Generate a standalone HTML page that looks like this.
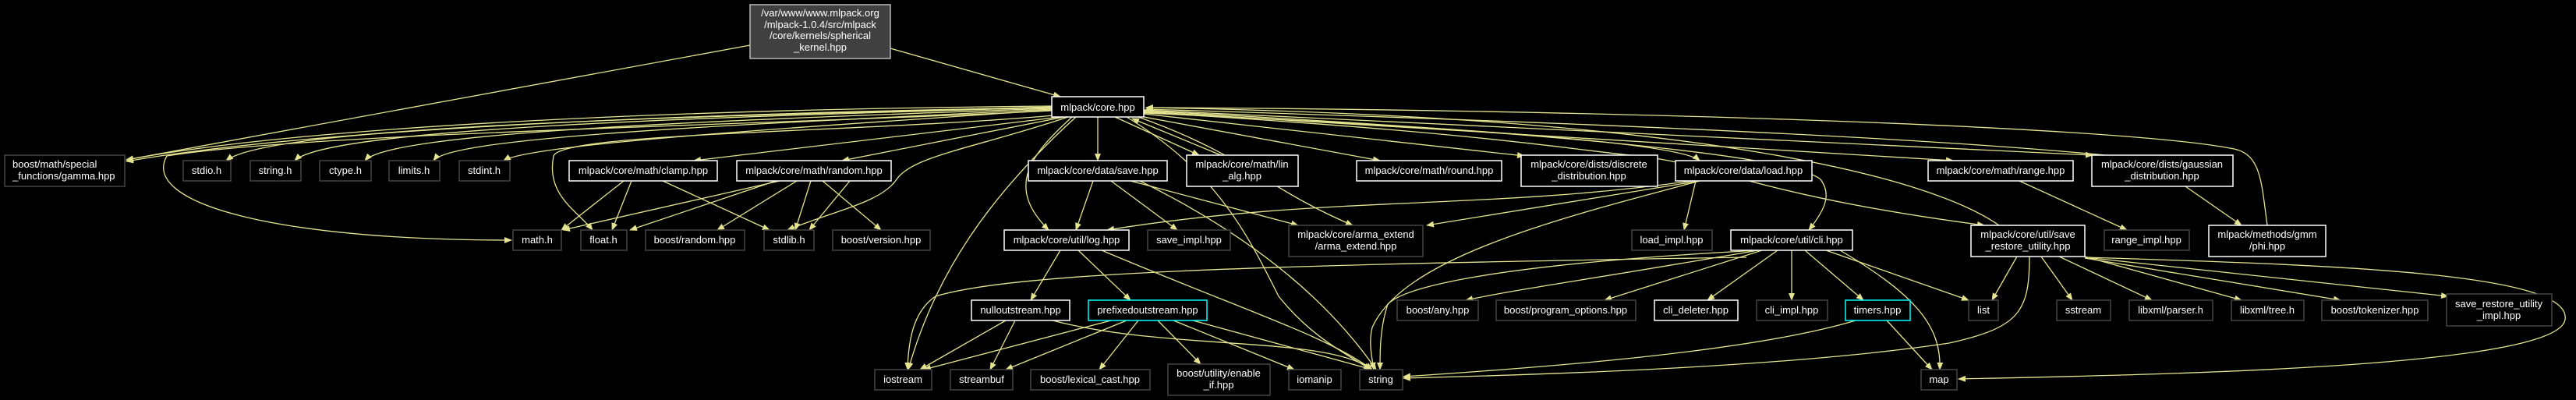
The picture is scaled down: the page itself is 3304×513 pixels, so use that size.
<!DOCTYPE html>
<html><head><meta charset="utf-8"><style>
html,body{margin:0;padding:0;background:#000;width:3304px;height:513px;overflow:hidden}
svg text{font-family:"Liberation Sans",Arial,sans-serif;font-size:13px;fill:#fff}
.e{fill:none;stroke:#e4e490;stroke-width:1.3}
.n{fill:#000;stroke:#fff;stroke-width:1.5}
.g{fill:#000;stroke:#444;stroke-width:1.5}
.c{fill:#000;stroke:#0ff;stroke-width:1.5}
</style></head><body>
<svg width="3304" height="513" viewBox="0 0 3304 513" xmlns="http://www.w3.org/2000/svg">
<defs><marker id="a" markerWidth="10" markerHeight="8" refX="9" refY="4" orient="auto" markerUnits="userSpaceOnUse"><path d="M0,0 L10,4 L0,8 z" fill="#e4e490"/></marker></defs>
<g class="e" marker-end="url(#a)">
<path d="M1142,62 L1360,124"/>
<path d="M962,58 L162,205"/>
<path d="M1349,136 C900,140 400,160 162,205"/>
<path d="M1349,138 C900,145 400,165 162,207"/>
<path d="M1349,137 C900,150 350,160 290,206"/>
<path d="M1349,138 C900,150 420,165 378,206"/>
<path d="M1349,139 C900,155 500,170 468,206"/>
<path d="M1349,140 C950,160 580,175 556,206"/>
<path d="M1349,141 C1000,165 680,185 646,206"/>
<path d="M1349,142 C1000,160 400,170 214,200 C180,260 350,308 656,308"/>
<path d="M1352,148 C1100,170 720,170 710,200 C700,250 740,270 760,295"/>
<path d="M1360,150 L890,206"/>
<path d="M1370,150 C1250,190 1170,200 1150,230 C1130,260 1070,270 1010,295"/>
<path d="M1365,150 L1080,206"/>
<path d="M1408,150 L1408,206"/>
<path d="M1375,150 C1320,200 1290,240 1345,295"/>
<path d="M1380,150 C1270,250 1200,350 1165,474"/>
<path d="M1430,150 L1538,199"/>
<path d="M1467,150 L1770,206"/>
<path d="M1467,146 L1955,200"/>
<path d="M1467,145 C1800,160 2150,180 2180,206"/>
<path d="M1467,143 L2505,206"/>
<path d="M1467,141 L2684,199"/>
<path d="M1467,142 C2000,170 2300,200 2335,230 C2350,250 2340,270 2320,295"/>
<path d="M1467,144 C1900,170 2000,190 2100,200 C2200,210 2250,250 2545,289"/>
<path d="M1460,150 C1600,200 1620,240 1735,289"/>
<path d="M1445,150 C1560,220 1600,300 1640,380 C1680,430 1720,450 1758,474"/>
<path d="M1566,199 L1452,152"/>
<path d="M2564,289 C2480,230 2200,150 1470,138"/>
<path d="M2908,289 C2900,230 2900,195 2860,190 C2700,160 2000,140 1470,138"/>
<path d="M2700,199 C2400,170 1800,150 1470,140"/>
<path d="M800,232 L720,295"/><path d="M810,232 L785,295"/><path d="M850,232 L987,295"/>
<path d="M1000,232 L722,295"/><path d="M995,232 L808,295"/><path d="M1022,232 L920,295"/><path d="M1040,232 L1020,295"/><path d="M1055,232 L1130,295"/><path d="M1090,232 L1038,295"/>
<path d="M1402,232 L1380,295"/><path d="M1425,232 L1510,295"/><path d="M1450,232 L1665,289"/>
<path d="M1462,232 C1600,300 1700,380 1765,474"/>
<path d="M2175,232 L2160,295"/><path d="M2170,232 C1900,270 1700,250 1420,295"/>
<path d="M2180,232 L1830,289"/>
<path d="M2180,232 C2000,280 1800,330 1760,420 C1755,440 1760,460 1762,474"/>
<path d="M2240,330 C1600,340 1300,350 1200,380 C1170,400 1165,440 1164,474"/>
<path d="M2590,232 L2728,295"/>
<path d="M2803,239 L2875,289"/>
<path d="M2255,321 C1900,340 1800,370 1780,390 C1770,420 1770,450 1770,474" />
<path d="M2255,321 C2030,360 1950,370 1880,385"/>
<path d="M2260,321 L2058,385"/>
<path d="M2280,321 L2190,385"/>
<path d="M2298,321 L2298,385"/>
<path d="M2315,321 L2390,385"/>
<path d="M2342,321 L2525,385"/>
<path d="M2360,321 C2460,380 2490,420 2488,474"/>
<path d="M1360,321 L1322,385"/><path d="M1383,321 L1450,385"/><path d="M1413,321 C1600,400 1700,430 1760,474"/>
<path d="M1290,411 L1180,474"/><path d="M1302,411 L1270,474"/><path d="M1350,411 C1500,450 1700,430 1760,474"/>
<path d="M1425,411 L1185,474"/><path d="M1445,411 L1290,474"/><path d="M1460,411 L1410,474"/><path d="M1485,411 L1540,467"/><path d="M1505,411 L1660,474"/><path d="M1530,411 L1760,474"/>
<path d="M2380,411 C2250,450 2000,470 1800,483"/>
<path d="M2420,411 L2478,474"/>
<path d="M2587,329 L2555,385"/><path d="M2618,329 L2658,385"/><path d="M2641,329 L2760,385"/><path d="M2674,329 L2875,385"/><path d="M2674,331 L3002,385"/><path d="M2674,330 L3140,380"/>
<path d="M2674,330 C3000,340 3300,350 3290,410 C3280,470 2800,480 2512,486"/>
<path d="M2603,329 C2603,400 2590,420 2500,440 C2300,470 2000,480 1800,485"/>
</g>
<rect x="962" y="6" width="180" height="69" fill="#404040" stroke="#bbb" stroke-width="1.5"/>
<text x="1052" y="21" text-anchor="middle">/var/www/www.mlpack.org</text>
<text x="1052" y="36" text-anchor="middle">/mlpack-1.0.4/src/mlpack</text>
<text x="1052" y="50" text-anchor="middle">/core/kernels/spherical</text>
<text x="1052" y="65" text-anchor="middle">_kernel.hpp</text>
<rect class="n" x="1349" y="124" width="118" height="26"/><text x="1408" y="142" text-anchor="middle">mlpack/core.hpp</text>
<rect class="g" x="6" y="199" width="154" height="40"/><text x="16" y="215">boost/math/special</text><text x="16" y="230">_functions/gamma.hpp</text>
<g text-anchor="middle">
<rect class="g" x="235" y="206" width="61" height="26"/><text x="265" y="223">stdio.h</text>
<rect class="g" x="321" y="206" width="65" height="26"/><text x="353" y="223">string.h</text>
<rect class="g" x="410" y="206" width="66" height="26"/><text x="443" y="223">ctype.h</text>
<rect class="g" x="499" y="206" width="65" height="26"/><text x="531" y="223">limits.h</text>
<rect class="g" x="589" y="206" width="65" height="26"/><text x="621" y="223">stdint.h</text>
<rect class="n" x="730" y="206" width="190" height="26"/><text x="825" y="223">mlpack/core/math/clamp.hpp</text>
<rect class="n" x="945" y="206" width="198" height="26"/><text x="1044" y="223">mlpack/core/math/random.hpp</text>
<rect class="n" x="1319" y="206" width="178" height="26"/><text x="1408" y="223">mlpack/core/data/save.hpp</text>
<rect class="n" x="1522" y="199" width="143" height="40"/><text x="1593" y="215">mlpack/core/math/lin</text><text x="1593" y="230">_alg.hpp</text>
<rect class="n" x="1740" y="206" width="186" height="26"/><text x="1833" y="223">mlpack/core/math/round.hpp</text>
<rect class="n" x="1951" y="199" width="175" height="40"/><text x="2038" y="215">mlpack/core/dists/discrete</text><text x="2038" y="230">_distribution.hpp</text>
<rect class="n" x="2149" y="206" width="175" height="26"/><text x="2236" y="223">mlpack/core/data/load.hpp</text>
<rect class="n" x="2473" y="206" width="186" height="26"/><text x="2566" y="223">mlpack/core/math/range.hpp</text>
<rect class="n" x="2683" y="199" width="181" height="40"/><text x="2773" y="215">mlpack/core/dists/gaussian</text><text x="2773" y="230">_distribution.hpp</text>
<rect class="g" x="658" y="295" width="62" height="26"/><text x="689" y="312">math.h</text>
<rect class="g" x="745" y="295" width="59" height="26"/><text x="774" y="312">float.h</text>
<rect class="g" x="828" y="295" width="127" height="26"/><text x="891" y="312">boost/random.hpp</text>
<rect class="g" x="980" y="295" width="64" height="26"/><text x="1012" y="312">stdlib.h</text>
<rect class="g" x="1068" y="295" width="125" height="26"/><text x="1130" y="312">boost/version.hpp</text>
<rect class="n" x="1288" y="295" width="160" height="26"/><text x="1368" y="312">mlpack/core/util/log.hpp</text>
<rect class="g" x="1472" y="295" width="106" height="26"/><text x="1525" y="312">save_impl.hpp</text>
<rect class="g" x="1653" y="289" width="172" height="40"/><text x="1739" y="305">mlpack/core/arma_extend</text><text x="1739" y="320">/arma_extend.hpp</text>
<rect class="g" x="2093" y="295" width="103" height="26"/><text x="2144" y="312">load_impl.hpp</text>
<rect class="n" x="2220" y="295" width="156" height="26"/><text x="2298" y="312">mlpack/core/util/cli.hpp</text>
<rect class="n" x="2528" y="289" width="146" height="40"/><text x="2601" y="305">mlpack/core/util/save</text><text x="2601" y="320">_restore_utility.hpp</text>
<rect class="g" x="2699" y="295" width="109" height="26"/><text x="2753" y="312">range_impl.hpp</text>
<rect class="n" x="2833" y="289" width="150" height="40"/><text x="2908" y="305">mlpack/methods/gmm</text><text x="2908" y="320">/phi.hpp</text>
<rect class="n" x="1246" y="385" width="126" height="26"/><text x="1309" y="402">nulloutstream.hpp</text>
<rect class="c" x="1396" y="385" width="152" height="26"/><text x="1472" y="402">prefixedoutstream.hpp</text>
<rect class="g" x="1792" y="385" width="104" height="26"/><text x="1844" y="402">boost/any.hpp</text>
<rect class="g" x="1919" y="385" width="179" height="26"/><text x="2008" y="402">boost/program_options.hpp</text>
<rect class="n" x="2122" y="385" width="107" height="26"/><text x="2175" y="402">cli_deleter.hpp</text>
<rect class="g" x="2253" y="385" width="91" height="26"/><text x="2298" y="402">cli_impl.hpp</text>
<rect class="c" x="2367" y="385" width="83" height="26"/><text x="2408" y="402">timers.hpp</text>
<rect class="g" x="2525" y="385" width="38" height="26"/><text x="2544" y="402">list</text>
<rect class="g" x="2638" y="385" width="69" height="26"/><text x="2672" y="402">sstream</text>
<rect class="g" x="2731" y="385" width="107" height="26"/><text x="2784" y="402">libxml/parser.h</text>
<rect class="g" x="2862" y="385" width="93" height="26"/><text x="2908" y="402">libxml/tree.h</text>
<rect class="g" x="2978" y="385" width="136" height="26"/><text x="3046" y="402">boost/tokenizer.hpp</text>
<rect class="g" x="3138" y="377" width="135" height="41"/><text x="3205" y="394">save_restore_utility</text><text x="3205" y="409">_impl.hpp</text>
<rect class="g" x="1122" y="474" width="73" height="26"/><text x="1158" y="491">iostream</text>
<rect class="g" x="1219" y="474" width="80" height="26"/><text x="1259" y="491">streambuf</text>
<rect class="g" x="1322" y="474" width="153" height="26"/><text x="1398" y="491">boost/lexical_cast.hpp</text>
<rect class="g" x="1498" y="467" width="131" height="40"/><text x="1563" y="483">boost/utility/enable</text><text x="1563" y="498">_if.hpp</text>
<rect class="g" x="1653" y="474" width="67" height="26"/><text x="1686" y="491">iomanip</text>
<rect class="g" x="1744" y="474" width="55" height="26"/><text x="1771" y="491">string</text>
<rect class="g" x="2464" y="474" width="46" height="26"/><text x="2487" y="491">map</text>
</g>
</svg>
</body></html>
